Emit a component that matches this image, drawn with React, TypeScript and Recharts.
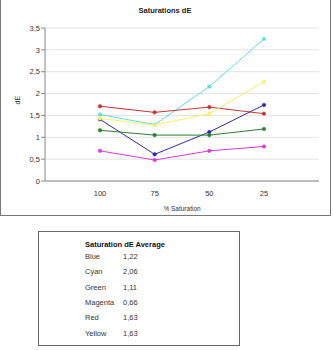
import React from "react";
import {
  LineChart,
  Line,
  XAxis,
  YAxis,
  CartesianGrid,
  Label,
} from "recharts";

// saturation steps on the x axis
const saturations = ["100", "75", "50", "25"];

// dE per colour
const blue = [1.41, 0.61, 1.12, 1.74];
const cyan = [1.52, 1.29, 2.16, 3.25];
const green = [1.16, 1.05, 1.05, 1.19];
const magenta = [0.69, 0.48, 0.69, 0.79];
const red = [1.71, 1.57, 1.69, 1.54];
const yellow = [1.43, 1.28, 1.54, 2.27];

const yTicks = [0, 0.5, 1, 1.5, 2, 2.5, 3, 3.5];

// summary table below the chart
const avgNames = ["Blue", "Cyan", "Green", "Magenta", "Red", "Yellow"];
const avgValues = ["1,22", "2,06", "1,11", "0,66", "1,63", "1,63"];

const series = [
  { key: "blue", values: blue, color: "#2b2ba8" },
  { key: "cyan", values: cyan, color: "#5fe0e0" },
  { key: "green", values: green, color: "#2e7f2e" },
  { key: "magenta", values: magenta, color: "#d93bd9" },
  { key: "red", values: red, color: "#c83434" },
  { key: "yellow", values: yellow, color: "#f2f263" },
];

const chartData = saturations.map((s, i) => {
  const row: Record<string, string | number> = { sat: s };
  series.forEach((ser) => {
    row[ser.key] = ser.values[i];
  });
  return row;
});

const font = '"Liberation Sans", Arial, sans-serif';
const tickStyle = { fontSize: 7.5, fill: "#333", fontFamily: font };

export default function App() {
  return (
    <div
      style={{
        position: "absolute",
        left: 0,
        top: 0,
        width: 333,
        height: 350,
        background: "#fff",
        fontFamily: font,
      }}
    >
      <div
        style={{
          position: "absolute",
          left: 0,
          top: 0,
          width: 331,
          height: 216,
          borderLeft: "1px solid #777",
          borderRight: "1px solid #777",
          borderBottom: "1px solid #777",
          boxSizing: "border-box",
        }}
      />
      <div
        style={{
          position: "absolute",
          left: 0,
          top: 6,
          width: 330,
          textAlign: "center",
          fontSize: 7.5,
          fontWeight: "bold",
          color: "#222",
        }}
      >
        Saturations dE
      </div>
      <div style={{ position: "absolute", left: 0, top: 0 }}>
        <LineChart
          width={330}
          height={215}
          data={chartData}
          margin={{ top: 28, right: 11, left: 0, bottom: 14 }}
        >
          <CartesianGrid
            vertical={false}
            stroke="#e2e2e2"
            strokeWidth={1}
          />
          <XAxis
            dataKey="sat"
            padding={{ left: 55, right: 55 }}
            tickLine={false}
            axisLine={{ stroke: "#888" }}
            tick={tickStyle}
            tickMargin={4}
            height={20}
          >
            <Label
              value="% Saturation"
              position="insideBottom"
              offset={-10}
              style={{ fontSize: 6.5, fill: "#333", fontFamily: font }}
            />
          </XAxis>
          <YAxis
            domain={[0, 3.5]}
            ticks={yTicks}
            width={45}
            tickSize={4}
            tickLine={{ stroke: "#888" }}
            axisLine={{ stroke: "#888" }}
            tick={tickStyle}
            tickMargin={1}
            tickFormatter={(v: number) => String(v).replace(".", ",")}
            interval={0}
          >
            <Label
              value="dE"
              angle={-90}
              position="insideLeft"
              offset={18}
              style={{ fontSize: 7, fill: "#333", fontFamily: font }}
            />
          </YAxis>
          {series.map((ser) => (
            <Line
              key={ser.key}
              dataKey={ser.key}
              type="linear"
              stroke={ser.color}
              strokeWidth={1}
              dot={{ r: 1.8, fill: ser.color, stroke: ser.color, strokeWidth: 0.5 }}
              isAnimationActive={false}
            />
          ))}
        </LineChart>
      </div>
      <div
        style={{
          position: "absolute",
          left: 38,
          top: 231,
          width: 202,
          height: 115,
          border: "1px solid #666",
          boxSizing: "border-box",
        }}
      >
        <div
          style={{
            position: "absolute",
            left: 46,
            top: 8,
            fontSize: 7.5,
            fontWeight: "bold",
            color: "#111",
            whiteSpace: "nowrap",
          }}
        >
          Saturation dE Average
        </div>
        {avgNames.map((name, i) => (
          <div
            key={name}
            style={{
              position: "absolute",
              left: 46,
              top: 20 + i * 15.3,
              fontSize: 7.5,
              color: "#333",
              whiteSpace: "nowrap",
            }}
          >
            <span style={{ display: "inline-block", width: 38 }}>{name}</span>
            <span>{avgValues[i]}</span>
          </div>
        ))}
      </div>
    </div>
  );
}
